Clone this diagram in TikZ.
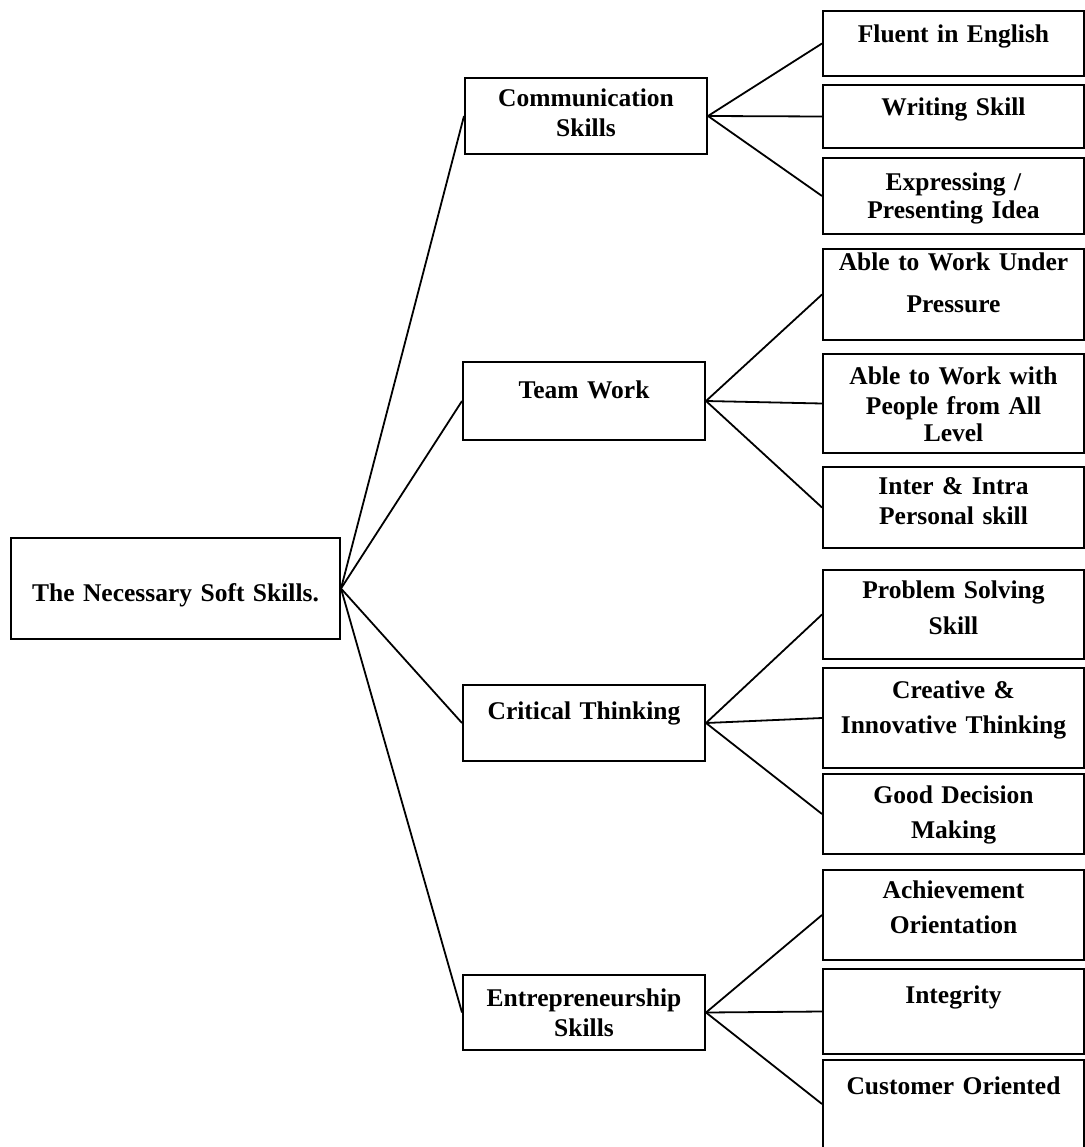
\documentclass[tikz,border=0pt]{standalone}
\usepackage{fontspec}
\setmainfont{Liberation Serif}
\usepackage{tikz}
\usetikzlibrary{positioning}

\begin{document}
\begin{tikzpicture}[
  x=1pt, y=-1pt,
  skill/.style={rectangle, draw, line width=2pt, inner sep=0pt,
                anchor=north west, align=center, text width=261pt,
                font=\bfseries\fontsize{25.5}{30}\selectfont},
  group/.style={skill, text width=242pt},
  link/.style={line width=1.8pt}
]
\useasboundingbox (0,0) rectangle (1084,1147);

\node[skill, text width=329pt, text height=63pt, text depth=38pt] (root) at (10,537) {The Necessary Soft Skills.};

\node[group, text height=29pt, text depth=47pt] (comm)  at (464,77)  {Communication\\Skills};
\node[group, text height=36pt, text depth=42pt] (team)  at (462,361) {Team Work};
\node[group, text height=34pt, text depth=42pt] (crit)  at (462,684) {Critical Thinking};
\node[group, text height=31pt, text depth=44pt] (entre) at (462,974) {Entrepreneurship\\Skills};

\node[skill, text height=32pt, text depth=33pt] (fluent)   at (822,10)   {Fluent in English};
\node[skill, text height=31pt, text depth=32pt] (writing)  at (822,84)   {Writing Skill};
\node[skill, text height=33pt, text depth=43pt] (express)  at (822,157)  {Expressing /\\[-2pt]Presenting Idea};
\node[skill, text height=22pt, text depth=69pt] (pressure) at (822,248)  {Able to Work Under\\[12pt]Pressure};
\node[skill, text height=30pt, text depth=69pt] (people)   at (822,353)  {Able to Work with\\People from All\\[-3pt]Level};
\node[skill, text height=27pt, text depth=54pt] (personal) at (822,466)  {Inter \& Intra\\Personal skill};
\node[skill, text height=28pt, text depth=61pt] (problem)  at (822,569)  {Problem Solving\\[6pt]Skill};
\node[skill, text height=30pt, text depth=70pt] (creative) at (822,667)  {Creative \&\\[5pt]Innovative Thinking};
\node[skill, text height=29pt, text depth=51pt] (decision) at (822,773)  {Good Decision\\[5pt]Making};
\node[skill, text height=28pt, text depth=62pt] (achieve)  at (822,869)  {Achievement\\[5pt]Orientation};
\node[skill, text height=34pt, text depth=51pt] (integ)    at (822,968)  {Integrity};
\node[skill, text height=34pt, text depth=54pt] (customer) at (822,1059) {Customer Oriented};

\draw[link] (root.east) -- (comm.west);
\draw[link] (root.east) -- (team.west);
\draw[link] (root.east) -- (crit.west);
\draw[link] (root.east) -- (entre.west);

\draw[link] (comm.east) -- (fluent.west);
\draw[link] (comm.east) -- (writing.west);
\draw[link] (comm.east) -- (express.west);
\draw[link] (team.east) -- (pressure.west);
\draw[link] (team.east) -- (people.west);
\draw[link] (team.east) -- (personal.west);
\draw[link] (crit.east) -- (problem.west);
\draw[link] (crit.east) -- (creative.west);
\draw[link] (crit.east) -- (decision.west);
\draw[link] (entre.east) -- (achieve.west);
\draw[link] (entre.east) -- (integ.west);
\draw[link] (entre.east) -- (customer.west);
\end{tikzpicture}
\end{document}
